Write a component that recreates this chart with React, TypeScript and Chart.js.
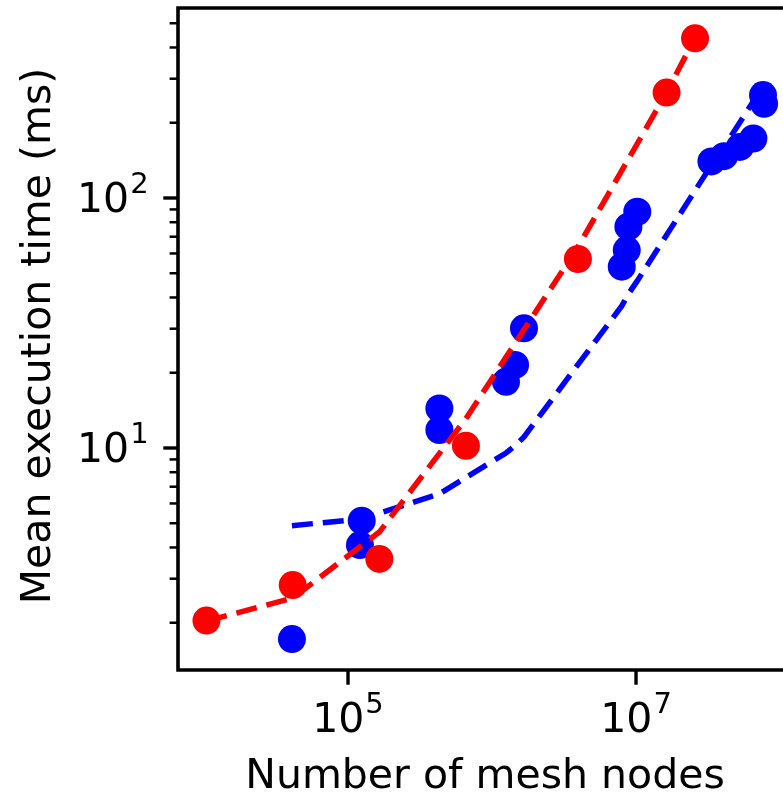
import { useEffect, useRef } from "react";
import { Chart, registerables } from "chart.js";

Chart.register(...registerables);

// ---- data ----
const redNodes = [1.04e4, 4.13e4, 1.65e5, 6.59e5, 3.95e6, 1.63e7, 2.57e7];
const redTimes = [2.04, 2.83, 3.6, 10.2, 57.0, 264, 435];
const redFitNodes = [1.04e4, 4.13e4, 1.65e5, 6.59e5, 3.95e6, 1.63e7, 2.57e7];
const redFitTimes = [2.03, 2.51, 4.61, 13.1, 63.7, 264, 437];

const blueNodes = [
  4.08e4, 1.21e5, 1.245e5, 4.31e5, 4.31e5, 1.25e6, 1.445e6, 1.667e6, 7.96e6,
  8.62e6, 8.85e6, 1.02e7, 3.34e7, 4.08e7, 5.27e7, 6.53e7, 7.62e7, 7.75e7,
];
const blueTimes = [
  1.72, 4.09, 5.12, 11.8, 14.4, 18.4, 21.5, 30.1, 53.1, 61.9, 76.8, 88.1, 140,
  147, 160, 173, 258, 238,
];
const blueFitNodes = [
  4.08e4, 1.23e5, 4.31e5, 1.25e6, 1.445e6, 1.667e6, 7.96e6, 8.62e6, 8.85e6,
  1.02e7, 3.34e7, 4.08e7, 5.27e7, 6.53e7, 7.7e7,
];
const blueFitTimes = [
  4.89, 5.2, 6.55, 9.55, 10.2, 11.07, 37.0, 40.2, 41.3, 46.6, 135.5, 160, 201,
  244, 286,
];

const xMajorTicks = [1e5, 1e7];
const xTickExponents = ["5", "7"];
const yMajorTicks = [10, 100];
const yTickExponents = ["1", "2"];
const yMinorTicks = [2, 3, 4, 5, 6, 7, 8, 9, 20, 30, 40, 50, 60, 70, 80, 90, 200, 300, 400, 500];
const xTitle = "Number of mesh nodes";
const yTitle = "Mean execution time (ms)";

const xMin = 6598;
const xMax = 1.211e8;
const yMin = 1.294;
const yMax = 575.4;

const FONT = "DejaVu Sans";
const FS = 41;

const pts = (xs: number[], ys: number[]) => xs.map((x, i) => ({ x, y: ys[i] }));

function drawPow(
  ctx: CanvasRenderingContext2D,
  exp: string,
  x: number,
  baseline: number,
  align: "center" | "right"
) {
  ctx.font = `${FS}px "${FONT}"`;
  const wBase = ctx.measureText("10").width;
  ctx.font = `${Math.round(FS * 0.7)}px "${FONT}"`;
  const wExp = ctx.measureText(exp).width;
  const total = wBase + wExp + 1;
  const left = align === "center" ? x - total / 2 : x - total;
  ctx.textAlign = "left";
  ctx.textBaseline = "alphabetic";
  ctx.font = `${FS}px "${FONT}"`;
  ctx.fillText("10", left, baseline);
  ctx.font = `${Math.round(FS * 0.7)}px "${FONT}"`;
  ctx.fillText(exp, left + wBase + 1, baseline - 19);
}

const axesPlugin = {
  id: "mplAxes",
  afterDraw(chart: any) {
    const { ctx, chartArea: a, scales } = chart;
    const xs = scales.x;
    const ys = scales.y;
    ctx.save();
    ctx.strokeStyle = "#000";
    ctx.fillStyle = "#000";
    ctx.lineCap = "butt";

    const majorLen = 14.7;
    const minorLen = 8.4;
    // minor y ticks
    ctx.lineWidth = 2.5;
    for (const v of yMinorTicks) {
      const py = ys.getPixelForValue(v);
      ctx.beginPath();
      ctx.moveTo(a.left - minorLen, py);
      ctx.lineTo(a.left, py);
      ctx.stroke();
    }
    // major ticks
    ctx.lineWidth = 3.4;
    for (const v of yMajorTicks) {
      const py = ys.getPixelForValue(v);
      ctx.beginPath();
      ctx.moveTo(a.left - majorLen, py);
      ctx.lineTo(a.left, py);
      ctx.stroke();
    }
    for (const v of xMajorTicks) {
      const px = xs.getPixelForValue(v);
      ctx.beginPath();
      ctx.moveTo(px, a.bottom);
      ctx.lineTo(px, a.bottom + majorLen);
      ctx.stroke();
    }
    // spines
    ctx.lineWidth = 3.6;
    ctx.lineJoin = "miter";
    ctx.beginPath();
    ctx.moveTo(a.right, a.top);
    ctx.lineTo(a.left, a.top);
    ctx.lineTo(a.left, a.bottom);
    ctx.lineTo(a.right, a.bottom);
    ctx.lineTo(a.right, a.top);
    ctx.stroke();

    // tick labels
    xMajorTicks.forEach((v, i) => {
      const px = xs.getPixelForValue(v);
      drawPow(ctx, xTickExponents[i], px, a.bottom + 62, "center");
    });
    yMajorTicks.forEach((v, i) => {
      const py = ys.getPixelForValue(v);
      drawPow(ctx, yTickExponents[i], a.left - majorLen - 14.7, py + 14, "right");
    });

    // titles
    ctx.font = `${FS}px "${FONT}"`;
    ctx.textAlign = "center";
    ctx.textBaseline = "alphabetic";
    ctx.fillText(xTitle, (a.left + a.right) / 2, 788);
    ctx.save();
    ctx.translate(50, (a.top + a.bottom) / 2 - 3);
    ctx.rotate(-Math.PI / 2);
    ctx.fillText(yTitle, 0, 0);
    ctx.restore();

    ctx.restore();
  },
};

export default function App() {
  const ref = useRef<HTMLCanvasElement | null>(null);

  useEffect(() => {
    if (!ref.current) return;
    const chart = new Chart(ref.current, {
      type: "scatter",
      data: {
        datasets: [
          {
            label: "red fit",
            data: pts(redFitNodes, redFitTimes),
            showLine: true,
            borderColor: "#ff0000",
            borderWidth: 5.5,
            borderDash: [21, 10],
            borderCapStyle: "butt",
            pointRadius: 0,
            fill: false,
            tension: 0,
          },
          {
            label: "red",
            data: pts(redNodes, redTimes),
            backgroundColor: "#ff0000",
            borderWidth: 0,
            pointRadius: 14,
          },
          {
            label: "blue",
            data: pts(blueNodes, blueTimes),
            backgroundColor: "#0000ff",
            borderWidth: 0,
            pointRadius: 14,
          },
          {
            label: "blue fit",
            data: pts(blueFitNodes, blueFitTimes),
            showLine: true,
            borderColor: "#0000ff",
            borderWidth: 5.5,
            borderDash: [21, 10],
            borderCapStyle: "butt",
            pointRadius: 0,
            fill: false,
            tension: 0,
          },
        ],
      },
      options: {
        responsive: false,
        animation: false,
        devicePixelRatio: 1,
        layout: { autoPadding: false, padding: { left: 178, top: 8, right: 8, bottom: 123 } },
        plugins: { legend: { display: false }, tooltip: { enabled: false } },
        scales: {
          x: { type: "logarithmic", display: false, min: xMin, max: xMax, bounds: "data" },
          y: { type: "logarithmic", display: false, min: yMin, max: yMax, bounds: "data" },
        },
      },
      plugins: [axesPlugin],
    });
    return () => chart.destroy();
  }, []);

  return (
    <div
      style={{
        position: "fixed",
        left: 0,
        top: 0,
        width: 783,
        height: 793,
        overflow: "hidden",
        background: "#fff",
      }}
    >
      <canvas ref={ref} width={800} height={793} style={{ display: "block" }} />
    </div>
  );
}
